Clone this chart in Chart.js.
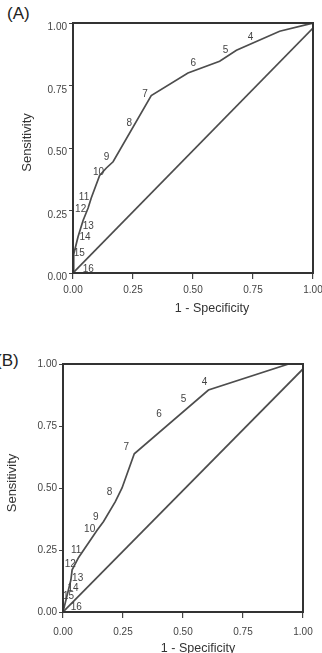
<!DOCTYPE html>
<html>
<head>
<meta charset="utf-8">
<script src="https://cdn.jsdelivr.net/npm/chart.js@4.4.0/dist/chart.umd.min.js"></script>
<style>
  body { margin: 0; background: #fff; width: 322px; height: 653px; overflow: hidden; position: relative; font-family: "Liberation Sans", Arial, sans-serif; }
  canvas { position: absolute; left: 0; }
  .tag { position: absolute; font-size: 17px; color: #222; line-height: 20px; }
</style>
</head>
<body>
<div class="tag" style="left:7px;top:4px">(A)</div>
<div class="tag" style="left:-4px;top:351px">(B)</div>
<canvas id="chartA" width="322" height="330" style="top:0"></canvas>
<canvas id="chartB" width="322" height="323" style="top:330px"></canvas>
<script>
// tick values shared by both panels
const tickValues = [0, 0.25, 0.5, 0.75, 1];
const diagX = [0, 1];
const diagY = [0, 0.98];

// panel A - ROC curve (1 - specificity, sensitivity)
const curveAx = [0, 0.003, 0.021, 0.042, 0.063, 0.076, 0.111, 0.139, 0.167, 0.326, 0.479, 0.611, 0.681, 0.861, 1];
const curveAy = [0, 0.075, 0.145, 0.21, 0.26, 0.30, 0.39, 0.42, 0.445, 0.71, 0.80, 0.847, 0.891, 0.967, 1];
// cut-off numbers and where they are written
const cutNames = ["4", "5", "6", "7", "8", "9", "10", "11", "12", "13", "14", "15", "16"];
const cutAx = [0.74, 0.636, 0.501, 0.300, 0.235, 0.140, 0.106, 0.046, 0.032, 0.064, 0.050, 0.026, 0.064];
const cutAy = [0.943, 0.891, 0.840, 0.716, 0.598, 0.464, 0.404, 0.304, 0.254, 0.186, 0.143, 0.080, 0.017];

// panel B
const curveBx = [0, 0.033, 0.038, 0.065, 0.142, 0.169, 0.218, 0.246, 0.297, 0.606, 0.94, 1];
const curveBy = [0, 0.13, 0.17, 0.22, 0.33, 0.365, 0.445, 0.50, 0.638, 0.895, 1, 1];
const cutBx = [0.590, 0.502, 0.400, 0.264, 0.194, 0.137, 0.111, 0.055, 0.030, 0.061, 0.042, 0.023, 0.055];
const cutBy = [0.928, 0.856, 0.797, 0.665, 0.482, 0.382, 0.334, 0.250, 0.193, 0.136, 0.097, 0.062, 0.019];

Chart.defaults.font.family = '"Liberation Sans", Arial, sans-serif';
Chart.defaults.color = '#444';

const pts = (xs, ys) => xs.map((x, i) => ({ x: x, y: ys[i] }));

// frame round the plot, cut-off numbers and axis titles
const decor = {
  id: 'decor',
  afterDatasetsDraw(chart, args, o) {
    const ctx = chart.ctx;
    const a = chart.chartArea;
    const sx = chart.scales.x, sy = chart.scales.y;
    ctx.save();
    ctx.strokeStyle = '#333';
    ctx.lineWidth = 2;
    ctx.strokeRect(a.left, a.top, a.right - a.left, a.bottom - a.top);

    ctx.fillStyle = '#444';
    ctx.font = '10px "Liberation Sans", Arial, sans-serif';
    ctx.textAlign = 'center';
    ctx.textBaseline = 'middle';
    o.names.forEach((n, i) => {
      ctx.fillText(n, sx.getPixelForValue(o.xs[i]), sy.getPixelForValue(o.ys[i]));
    });

    ctx.fillStyle = '#333';
    ctx.font = '12.5px "Liberation Sans", Arial, sans-serif';
    ctx.fillText('1 - Specificity', (a.left + a.right) / 2 + o.xTitleDx, o.xTitleY);
    ctx.font = '13px "Liberation Sans", Arial, sans-serif';
    ctx.translate(o.yTitleX, (a.top + a.bottom) / 2 + o.yTitleDy);
    ctx.rotate(-Math.PI / 2);
    ctx.fillText('Sensitivity', 0, 0);
    ctx.restore();
  }
};

function makeChart(id, c) {
  return new Chart(document.getElementById(id), {
    type: 'scatter',
    data: {
      datasets: [
        { data: pts(c.cx, c.cy), showLine: true, borderColor: '#4d4d4d', borderWidth: 1.7, pointRadius: 0, tension: 0 },
        { data: pts(diagX, diagY), showLine: true, borderColor: '#4d4d4d', borderWidth: 1.7, pointRadius: 0 }
      ]
    },
    options: {
      responsive: false,
      animation: false,
      events: [],
      layout: { padding: c.pad },
      plugins: {
        legend: { display: false },
        tooltip: { enabled: false },
        decor: { names: cutNames, xs: c.lx, ys: c.ly, xTitleDx: c.xTitleDx, xTitleY: c.xTitleY, yTitleX: c.yTitleX, yTitleDy: c.yTitleDy }
      },
      scales: {
        x: {
          type: 'linear', min: 0, max: 1,
          afterBuildTicks: s => { s.ticks = tickValues.map(v => ({ value: v })); },
          ticks: { callback: v => v.toFixed(2), font: { size: 10 }, color: '#444', padding: c.xPad, maxRotation: 0 },
          grid: { drawOnChartArea: false, tickLength: 6, color: '#444', lineWidth: 1.2 },
          border: { color: '#333', width: 2 },
          afterFit: s => { s.height = c.xH; s.paddingLeft = 0; s.paddingRight = 0; }
        },
        y: {
          type: 'linear', min: 0, max: 1,
          afterBuildTicks: s => { s.ticks = tickValues.map(v => ({ value: v })); },
          ticks: { callback: v => v.toFixed(2), font: { size: 10 }, color: '#444', padding: 2, labelOffset: c.yLabelOffset },
          grid: { drawOnChartArea: false, tickLength: 4, color: '#444', lineWidth: 1 },
          border: { color: '#333', width: 2 },
          afterFit: s => { s.width = c.yW; s.paddingTop = 0; s.paddingBottom = 0; }
        }
      }
    },
    plugins: [decor]
  });
}

makeChart('chartA', {
  cx: curveAx, cy: curveAy, lx: cutAx, ly: cutAy,
  pad: { top: 23, right: 9, left: 0, bottom: 0 },
  xH: 57, yW: 73, xPad: 5, yLabelOffset: 4.5,
  xTitleDx: 19, xTitleY: 309, yTitleX: 27, yTitleDy: -5.5
});

makeChart('chartB', {
  cx: curveBx, cy: curveBy, lx: cutBx, ly: cutBy,
  pad: { top: 34, right: 19, left: 0, bottom: 0 },
  xH: 41, yW: 63, xPad: 8, yLabelOffset: 0,
  xTitleDx: 15, xTitleY: 319, yTitleX: 12, yTitleDy: -5
});
</script>
</body>
</html>
